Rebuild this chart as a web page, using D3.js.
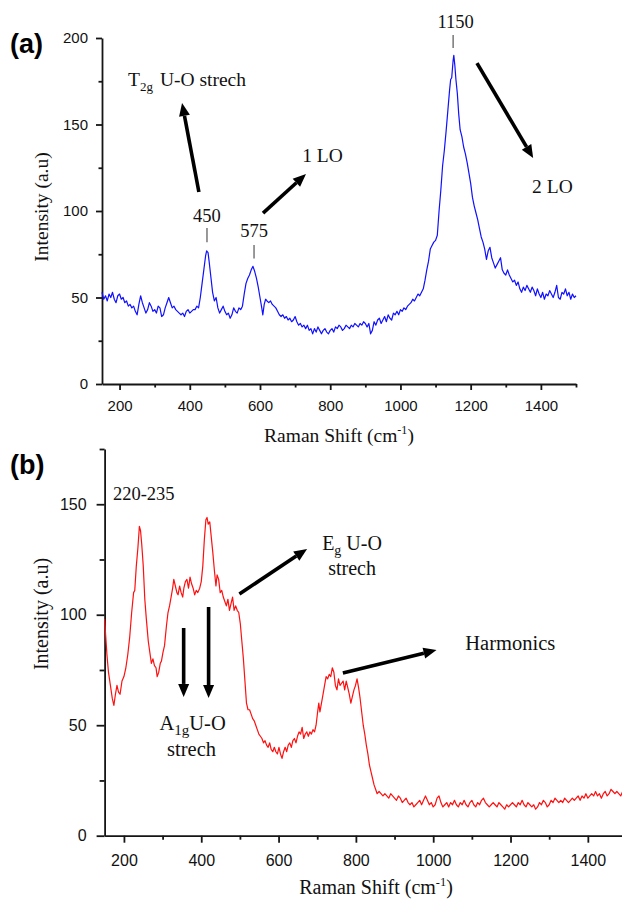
<!DOCTYPE html>
<html><head><meta charset="utf-8">
<script src="https://cdn.jsdelivr.net/npm/d3@7"></script>
<style>body{margin:0;background:#fff}svg{display:block}</style>
</head><body><svg id="c" width="622" height="900"></svg>
<script>
// ---------- Panel (a) data ----------
const ramanA = [150,155,160,165,170,175,180,185,190,195,200,205,210,215,220,225,230,235,240,245,250,255,260,265,270,275,280,285,290,295,300,305,310,315,320,325,330,335,340,345,350,355,360,365,370,375,380,385,390,395,400,405,410,415,420,425,430,435,440,445,448,452,455,460,465,470,475,480,485,490,495,500,505,510,515,520,525,530,535,540,545,550,555,560,565,570,575,580,585,590,595,600,605,608,612,616,620,625,630,635,640,645,650,655,660,665,670,675,680,685,690,695,700,705,710,715,720,725,730,735,740,745,750,755,760,765,770,775,780,785,790,795,800,805,810,815,820,825,830,835,840,845,850,855,860,865,870,875,880,885,890,895,900,905,910,915,920,925,930,935,940,945,950,955,960,965,970,975,980,985,990,995,1000,1005,1010,1015,1020,1025,1030,1035,1040,1045,1050,1055,1060,1065,1070,1075,1080,1085,1090,1095,1100,1105,1110,1115,1120,1125,1130,1135,1140,1143,1146,1150,1152,1155,1158,1162,1166,1170,1175,1180,1185,1190,1195,1200,1205,1210,1215,1220,1225,1230,1235,1240,1245,1250,1255,1260,1265,1270,1275,1280,1285,1290,1295,1300,1305,1310,1315,1320,1325,1330,1335,1340,1345,1350,1355,1360,1365,1370,1375,1380,1385,1390,1395,1400,1405,1410,1415,1420,1425,1430,1435,1440,1445,1450,1455,1460,1465,1470,1475,1480,1485,1490,1495,1500];
const intensityA = [53,49,51,48,52,50,53,49,47,51,52,49,50,47,48,45,46,44,45,42,40,46,51,47,44,41,43,47,45,42,43,41,45,44,39,40,44,47,50,47,44,45,43,42,41,40,41,39,42,43,41,42,43,43,45,44,50,58,66,74,77,76,71,62,53,48,50,44,41,43,45,42,40,41,38,40,44,42,41,44,43,45,52,58,61,63,66,68,65,61,56,50,44,40,46,49,48,47,48,46,45,44,42,40,39,40,38,39,37,38,36,37,39,36,34,35,33,34,32,34,31,32,29,32,30,33,31,29,31,32,30,29,31,32,30,33,32,34,33,31,32,34,33,32,34,33,35,34,33,35,34,36,35,33,35,29,31,36,34,37,38,35,37,39,36,40,38,37,41,40,42,40,43,42,44,43,45,46,47,49,48,50,52,51,53,55,60,66,71,78,80,82,83,86,100,112,126,135,146,158,170,176,177,187,190,184,176,168,156,147,143,137,133,128,122,116,108,103,99,95,90,85,82,78,72,77,79,73,70,67,69,71,73,66,64,63,66,63,61,59,60,57,59,55,53,56,54,57,55,53,56,54,51,55,52,50,53,49,52,51,54,52,50,53,57,50,49,53,52,55,51,53,49,52,50,51,52];
const xMajorA = [200,400,600,800,1000,1200,1400];
const xMinorA = [300,500,700,900,1100,1300,1500];
const yMajorA = [0,50,100,150,200];
const yMinorA = [25,75,125,175];

// ---------- Panel (b) data ----------
const ramanB = [150,153,156,160,165,170,174,178,182,186,190,195,200,205,210,215,220,225,228,232,236,240,243,246,250,254,258,263,267,271,275,279,283,286,290,294,297,301,305,310,314,318,322,326,329,333,337,340,344,348,352,355,359,363,367,371,375,379,383,387,391,396,400,404,408,412,415,418,422,426,430,434,438,441,445,449,453,457,461,465,469,473,477,481,485,489,493,497,501,505,509,513,517,521,525,529,533,537,541,545,549,553,557,561,565,569,573,577,581,585,589,593,597,601,605,609,613,617,621,625,629,633,637,641,645,649,653,657,661,665,669,673,677,681,685,689,693,697,701,704,707,711,715,719,723,727,731,735,739,743,747,751,755,759,763,767,771,775,779,783,787,791,795,799,803,807,811,815,819,823,827,831,835,839,843,847,851,855,860,865,870,875,880,885,890,895,900,905,910,915,920,925,930,935,940,945,950,955,960,965,970,975,980,985,990,995,1000,1005,1010,1015,1020,1025,1030,1035,1040,1045,1050,1055,1060,1065,1070,1075,1080,1085,1090,1095,1100,1105,1110,1115,1120,1125,1130,1135,1140,1145,1150,1155,1160,1165,1170,1175,1180,1185,1190,1195,1200,1205,1210,1215,1220,1225,1230,1235,1240,1245,1250,1255,1260,1265,1270,1275,1280,1285,1290,1295,1300,1305,1310,1315,1320,1325,1330,1335,1340,1345,1350,1355,1360,1365,1370,1375,1380,1385,1390,1395,1400,1405,1410,1415,1420,1425,1430,1435,1440,1445,1450,1455,1460,1465,1470,1475,1480,1485,1490,1495,1500];
const intensityB = [98,90,82,74,68,62,59,64,68,65,64,70,72,76,82,90,101,110,111,122,130,140,138,132,122,107,98,88,83,78,80,77,76,72,74,78,79,83,86,95,101,104,108,112,116,113,110,109,113,110,108,112,115,116,112,117,114,112,109,111,110,112,115,122,134,143,144,141,142,135,128,120,113,118,116,110,111,108,106,104,107,102,105,108,102,104,102,101,96,88,80,70,60,57,57,55,53,52,50,48,46,45,44,42,43,41,40,42,39,38,40,38,37,40,37,35,38,40,38,41,42,40,43,44,42,45,47,46,49,44,46,47,45,47,46,48,47,50,56,60,56,60,64,68,72,71,73,72,76,74,68,66,71,68,69,70,66,70,67,64,60,63,66,68,71,67,62,56,50,46,41,37,32,29,26,23,21,19,20,19,18,19,18,17,19,18,17,16,18,17,15,16,17,15,14,15,13,14,15,16,14,16,18,16,14,15,13,14,17,18,15,13,14,15,13,15,14,16,14,13,15,14,16,14,13,15,16,14,13,15,14,16,17,15,14,13,14,15,14,13,15,14,13,12,14,13,14,15,14,13,15,14,16,14,13,15,14,13,14,12,13,15,14,16,15,13,14,16,15,17,16,15,16,15,17,16,15,16,17,16,17,18,16,18,17,19,17,18,19,18,20,18,19,17,19,20,18,19,21,20,19,20,19,18,20,19,20];
const xMajorB = [200,400,600,800,1000,1200,1400];
const xMinorB = [300,500,700,900,1100,1300,1500];
const yMajorB = [0,50,100,150];
const yMinorB = [25,75,125,175];

const SANS = "Liberation Sans, Arial, sans-serif";
const SERIF = "Liberation Serif, Times New Roman, serif";
const svg = d3.select("#c");
svg.append("rect").attr("width",622).attr("height",900).attr("fill","#fff");

function panel(o){
  const x = d3.scaleLinear().domain(o.xDomain).range(o.xRange);
  const y = d3.scaleLinear().domain(o.yDomain).range(o.yRange);
  const g = svg.append("g");
  const style = sel => { sel.selectAll("path,line").attr("stroke","#151515").attr("stroke-width",1.8); };
  // minor ticks
  g.append("g").attr("transform",`translate(0,${o.yRange[0]})`)
    .call(d3.axisBottom(x).tickValues(o.xMinor).tickSize(o.xMinorLen).tickFormat(""))
    .call(s=>s.select(".domain").remove()).call(style);
  g.append("g").attr("transform",`translate(${o.xRange[0]},0)`)
    .call(d3.axisLeft(y).tickValues(o.yMinor).tickSize(o.yMinorLen).tickFormat(""))
    .call(s=>s.select(".domain").remove()).call(style);
  // major
  const xa = g.append("g").attr("transform",`translate(0,${o.yRange[0]})`)
    .call(d3.axisBottom(x).tickValues(o.xMajor).tickSize(o.xMajorLen).tickSizeOuter(0).tickPadding(o.xPad).tickFormat(d=>String(d)));
  style(xa);
  xa.selectAll("text").style("font-family",SANS).attr("font-size",o.tickFont).attr("fill","#111");
  const ya = g.append("g").attr("transform",`translate(${o.xRange[0]},0)`)
    .call(d3.axisLeft(y).tickValues(o.yMajor).tickSize(o.yMajorLen).tickSizeOuter(0).tickPadding(o.yPad).tickFormat(d=>String(d)));
  style(ya);
  ya.selectAll("text").style("font-family",SANS).attr("font-size",o.tickFont).attr("fill","#111");
  // line
  const pts = o.xs.map((v,i)=>[v,o.ys[i]]);
  g.append("path").datum(pts).attr("fill","none").attr("stroke",o.color).attr("stroke-width",1.2)
    .attr("stroke-linejoin","round")
    .attr("d", d3.line().x(d=>x(d[0])).y(d=>y(d[1])));
  // axis titles
  const xt = g.append("text").attr("x",o.xTitleX).attr("y",o.xTitleY).attr("text-anchor","middle")
    .style("font-family",SERIF).attr("font-size",o.titleFont).attr("fill","#111");
  xt.append("tspan").text("Raman Shift (cm");
  xt.append("tspan").text("-1").attr("font-size",o.titleFont*0.62).attr("dy",-o.titleFont*0.42);
  xt.append("tspan").text(")").attr("dy",o.titleFont*0.42);
  g.append("text").attr("transform",`translate(${o.yTitleX},${o.yTitleY}) rotate(-90)`)
    .attr("text-anchor","middle").style("font-family",SERIF).attr("font-size",o.titleFont).attr("fill","#111")
    .text("Intensity (a.u)");
  g.append("text").attr("x",o.tagX).attr("y",o.tagY).style("font-family",SANS).attr("font-weight","bold")
    .attr("font-size",27).attr("fill","#000").text(o.tag);
  return {x,y,g};
}

function arrow(g, x1,y1,x2,y2){
  const ang = Math.atan2(y2-y1,x2-x1), L=13, W=5.5;
  const bx = x2 - L*Math.cos(ang), by = y2 - L*Math.sin(ang);
  g.append("line").attr("x1",x1).attr("y1",y1).attr("x2",bx).attr("y2",by)
    .attr("stroke","#000").attr("stroke-width",3.6);
  const px = -Math.sin(ang)*W, py = Math.cos(ang)*W;
  g.append("polygon").attr("points",`${x2},${y2} ${bx+px},${by+py} ${bx-px},${by-py}`).attr("fill","#000");
}
function label(g, x, y, size, anchor){
  return g.append("text").attr("x",x).attr("y",y).style("font-family",SERIF).attr("font-size",size)
    .attr("fill","#111").attr("text-anchor",anchor||"start");
}

// ---------- (a) ----------
const A = panel({xs:ramanA, ys:intensityA, color:"#1010ff",
  xDomain:[150,1500], xRange:[102,576], yDomain:[0,200], yRange:[384,38],
  xMajor:xMajorA, xMinor:xMinorA, yMajor:yMajorA, yMinor:yMinorA,
  xMajorLen:6, xMinorLen:3.5, yMajorLen:6, yMinorLen:3.5, xPad:10, yPad:8, tickFont:15,
  titleFont:19.5, xTitleX:339, xTitleY:442, yTitleX:48, yTitleY:207, tag:"(a)", tagX:10, tagY:53});
{
  const {x,y,g} = A;
  arrow(g, x(426), y(111), x(378), y(162.4));
  arrow(g, x(608.6), y(98.8), x(731), y(121.4));
  arrow(g, x(1218), y(185.5), x(1378), y(130.6));
  const t = label(g, x(224), y(172), 19.5);
  t.append("tspan").text("T");
  t.append("tspan").text("2g").attr("font-size",13).attr("dy",5);
  t.append("tspan").text("U-O strech").attr("dy",-5).attr("dx",7);
  label(g, x(449), y(93.6), 18.5, "middle").text("450");
  label(g, x(583), y(84.8), 18.5, "middle").text("575");
  label(g, x(1157), y(205.8), 18.5, "middle").text("1150");
  label(g, x(720), y(128.3), 19.5).text("1 LO");
  label(g, x(1375), y(110.4), 19.5).text("2 LO");
  const tick = (v,a,b)=>g.append("line").attr("x1",x(v)).attr("x2",x(v)).attr("y1",y(a)).attr("y2",y(b))
    .attr("stroke","#555").attr("stroke-width",1.2);
  tick(449, 90.2, 82); tick(583, 80.3, 72.6); tick(1150, 201.7, 194.2);
}

// ---------- (b) ----------
const B = panel({xs:ramanB, ys:intensityB, color:"#ff1010",
  xDomain:[150,1500], xRange:[104.6,626.5], yDomain:[0,175], yRange:[835.7,449],
  xMajor:xMajorB, xMinor:xMinorB, yMajor:yMajorB, yMinor:yMinorB,
  xMajorLen:7, xMinorLen:4, yMajorLen:8, yMinorLen:5, xPad:12, yPad:10, tickFont:16,
  titleFont:20, xTitleX:376, xTitleY:894, yTitleX:48, yTitleY:614, tag:"(b)", tagX:10, tagY:474});
{
  const {x,y,g} = B;
  label(g, x(171.6), y(152), 18.5).text("220-235");
  arrow(g, x(498.7), y(109.4), x(673.8), y(129.8));
  const e = label(g, x(790), y(129.3), 20, "middle");
  e.append("tspan").text("E");
  e.append("tspan").text("g").attr("font-size",14).attr("dy",5);
  e.append("tspan").text(" U-O").attr("dy",-5);
  label(g, x(790), y(118), 20, "middle").text("strech");
  arrow(g, x(766.4), y(73.6), x(1008.5), y(84));
  label(g, x(1083), y(84), 20.5).text("Harmonics");
  arrow(g, x(354.5), y(94), x(354.5), y(62.8));
  arrow(g, x(419), y(103.5), x(419), y(62.3));
  const a1 = label(g, x(377.7), y(47.8), 20.5, "middle");
  a1.append("tspan").text("A");
  a1.append("tspan").text("1g").attr("font-size",15).attr("dy",5);
  a1.append("tspan").text("U-O").attr("dy",-5);
  label(g, x(375), y(36.1), 20.5, "middle").text("strech");
}
</script></body></html>
